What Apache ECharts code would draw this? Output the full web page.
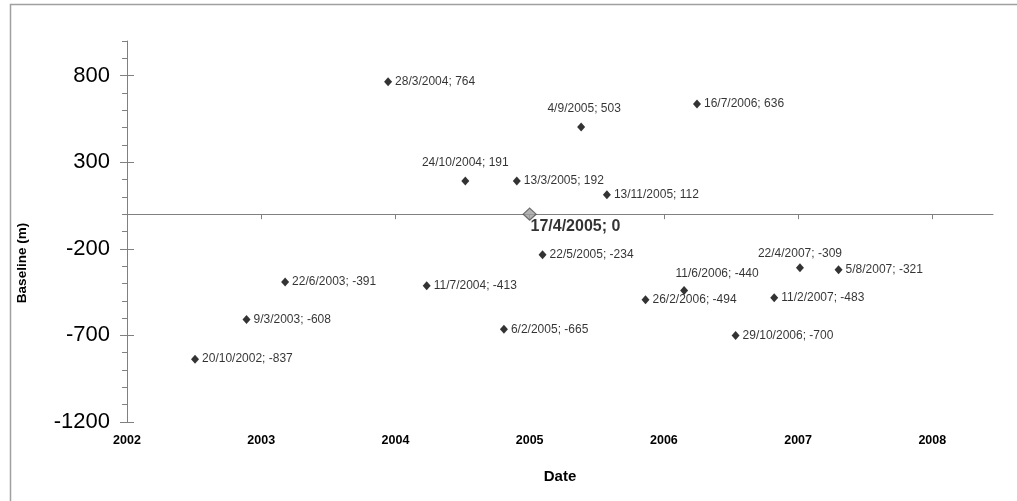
<!DOCTYPE html>
<html>
<head>
<meta charset="utf-8">
<script src="https://cdn.jsdelivr.net/npm/echarts@6/dist/echarts.min.js"></script>
<style>html,body{margin:0;padding:0;background:#fff}#c{width:1017px;height:501px}</style>
</head>
<body>
<div id="c"></div>
<script>
// ---- data ----
const acquisitionDates = ['20/10/2002','9/3/2003','22/6/2003','28/3/2004','11/7/2004','24/10/2004','6/2/2005','13/3/2005','22/5/2005','4/9/2005','13/11/2005','26/2/2006','11/6/2006','16/7/2006','29/10/2006','11/2/2007','22/4/2007','5/8/2007'];
const baselines = [-837,-608,-391,764,-413,191,-665,192,-234,503,112,-494,-440,636,-700,-483,-309,-321];
const referenceDate = '17/4/2005';
const referenceBaseline = 0;
const xTickYears = [2002,2003,2004,2005,2006,2007,2008];
const yTickLabels = [-1200,-700,-200,300,800];

// ---- helpers ----
function dayNum(s){ const p = s.split('/').map(Number); return Date.UTC(p[2], p[1]-1, p[0]) / 86400000; }
const ref = dayNum(referenceDate);
const toX = s => dayNum(s) - ref;           // days relative to reference acquisition
const YEAR = 365;
const xTickValues = xTickYears.map(y => (y - 2005) * YEAR);

// label placement (style only)
const topLabels = { '24/10/2004': [0,0], '4/9/2005': [3,0], '22/4/2007': [0,4], '11/6/2006': [33,2] };

const pts = acquisitionDates.map((d, i) => {
  const item = { value: [toX(d), baselines[i]], name: d };
  if (topLabels[d]) {
    const o = topLabels[d];
    item.label = { position: 'top', distance: 8, offset: [o[0], o[1]] };
  }
  return item;
});

const axisGrey = '#808080';
const chart = echarts.init(document.getElementById('c'), null, { renderer: 'canvas' });
chart.setOption({
  backgroundColor: '#ffffff',
  animation: false,
  grid: { left: 127, right: 24, top: 41, bottom: 79, containLabel: false },
  xAxis: [
    {
      type: 'value', position: 'bottom', min: -1095, max: 1260, interval: YEAR,
      axisLine: { show: false, onZero: false },
      axisTick: { show: false },
      splitLine: { show: false },
      axisLabel: {
        customValues: xTickValues, margin: 12,
        fontFamily: 'Liberation Sans', fontSize: 12.5, fontWeight: 'bold', color: '#000',
        formatter: v => String(xTickYears[xTickValues.indexOf(v)] ?? Math.round(2005 + v / YEAR))
      },
      name: 'Date', nameLocation: 'middle', nameGap: 47,
      nameTextStyle: { fontFamily: 'Liberation Sans', fontSize: 15, fontWeight: 'bold', color: '#000' }
    },
    {
      type: 'value', position: 'bottom', min: -1095, max: 1260, interval: YEAR,
      axisLine: { show: true, onZero: true, onZeroAxisIndex: 0, lineStyle: { color: axisGrey, width: 1 } },
      axisTick: { show: true, customValues: xTickValues, length: 5, inside: false, lineStyle: { color: axisGrey } },
      axisLabel: { show: false },
      splitLine: { show: false }
    }
  ],
  yAxis: [
    {
      type: 'value', position: 'left', min: -1200, max: 1000, interval: 100,
      axisLine: { show: true, onZero: false, lineStyle: { color: axisGrey, width: 1 } },
      axisTick: { show: true, length: 5, inside: false, lineStyle: { color: axisGrey } },
      splitLine: { show: false },
      axisLabel: {
        customValues: yTickLabels, margin: 17,
        fontFamily: 'Liberation Sans', fontSize: 22, color: '#000',
        formatter: v => String(v)
      }
    },
    {
      type: 'value', position: 'left', offset: 7, min: -1200, max: 1000, interval: 100,
      axisLine: { show: false, onZero: false },
      axisTick: { show: true, customValues: yTickLabels, length: 14, inside: true, lineStyle: { color: axisGrey } },
      axisLabel: { show: false },
      splitLine: { show: false }
    }
  ],
  graphic: [
    { type: 'rect', shape: { x: 10.5, y: 4.5, width: 1200, height: 800 }, style: { fill: 'none', stroke: '#a0a0a0', lineWidth: 1.5 }, silent: true },
    { type: 'text', x: 22, y: 263, rotation: Math.PI / 2,
      style: { text: 'Baseline (m)', font: 'bold 13.5px "Liberation Sans"', fill: '#000', textAlign: 'center', textVerticalAlign: 'middle' } }
  ],
  series: [
    {
      type: 'scatter', xAxisIndex: 0, yAxisIndex: 0,
      symbol: 'diamond', symbolSize: [8, 9],
      itemStyle: { color: '#000' },
      label: {
        show: true, position: 'right', distance: 3,
        fontFamily: 'Liberation Sans', fontSize: 12, color: '#000',
        formatter: p => p.name + '; ' + p.value[1]
      },
      data: pts,
      z: 3
    },
    {
      type: 'scatter', xAxisIndex: 0, yAxisIndex: 0,
      symbol: 'diamond', symbolSize: [13, 12],
      itemStyle: { color: '#a0a0a0', borderColor: '#505050', borderWidth: 1.2 },
      label: {
        show: true, position: [8, 19], align: 'left', verticalAlign: 'middle',
        fontFamily: 'Liberation Sans', fontSize: 16, fontWeight: 'bold', color: '#000',
        formatter: p => p.name + '; ' + p.value[1]
      },
      data: [{ value: [toX(referenceDate), referenceBaseline], name: referenceDate }],
      z: 4
    }
  ]
});
</script>
</body>
</html>
